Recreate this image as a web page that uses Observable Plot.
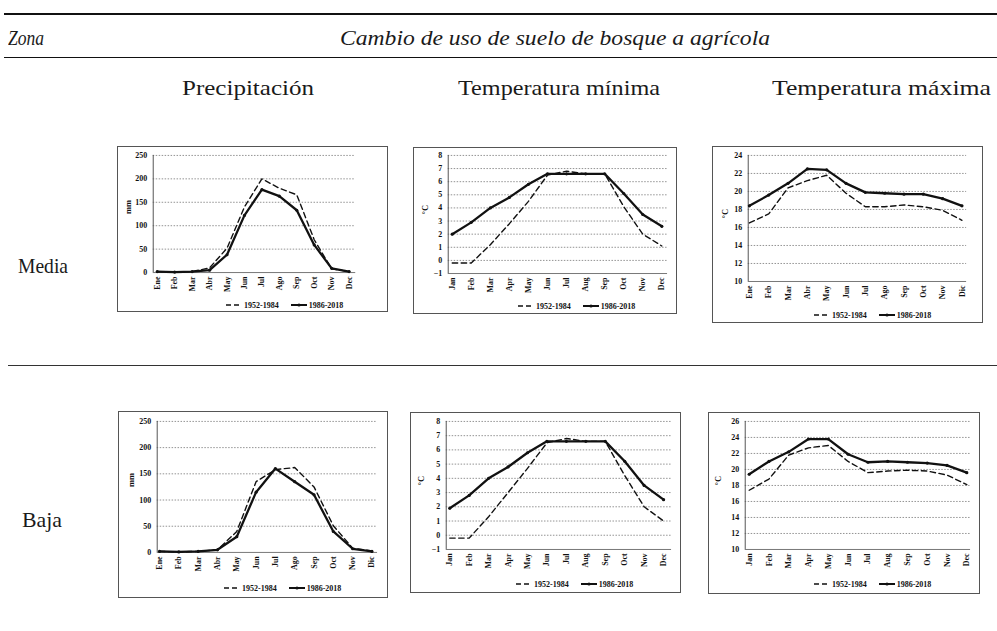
<!DOCTYPE html>
<html>
<head>
<meta charset="utf-8">
<script src="https://cdn.jsdelivr.net/npm/d3@7"></script>
<script src="https://cdn.jsdelivr.net/npm/@observablehq/plot@0.6"></script>
<style>
  html, body { margin: 0; padding: 0; background: #fff; }
  body { width: 997px; height: 631px; position: relative; overflow: hidden; }
  .rule { position: absolute; background: #111; }
  .hdr { position: absolute; white-space: nowrap; line-height: 1; color: #1a1a1a; transform-origin: 0 50%; }
  .box { position: absolute; box-sizing: border-box; border: 1px solid #555; background: #fff; }
  .box svg.plot { position: absolute; left: -1px; top: -1px; }
  .legend { position: absolute; display: flex; align-items: center; font-weight: bold; font-size: 8px; color: #111; white-space: nowrap; }
  .legend svg { display: block; }
</style>
</head>
<body>
<script>
// ---------- data ----------
const monthsPrecipMedia = ["Ene","Feb","Mar","Abr","May","Jun","Jul","Ago","Sep","Oct","Nov","Dec"];
const monthsES = ["Ene","Feb","Mar","Abr","May","Jun","Jul","Ago","Sep","Oct","Nov","Dic"];
const monthsEN = ["Jan","Feb","Mar","Apr","May","Jun","Jul","Aug","Sep","Oct","Nov","Dec"];

const periods = ["1952-1984", "1986-2018"];

const precipMedia1952 = [2, 1, 2, 10, 52, 140, 200, 180, 166, 70, 8, 2];
const precipMedia1986 = [2, 1, 2, 5, 38, 122, 177, 163, 133, 59, 9, 2];
const tminMedia1952 = [-0.2, -0.2, 1.2, 2.8, 4.5, 6.5, 6.8, 6.6, 6.6, 4.1, 2.0, 1.1];
const tminMedia1986 = [2.0, 2.9, 4.0, 4.8, 5.8, 6.6, 6.6, 6.6, 6.6, 5.1, 3.5, 2.6];
const tmaxMedia1952 = [16.5, 17.5, 20.4, 21.2, 21.8, 19.8, 18.3, 18.3, 18.5, 18.3, 17.9, 16.8];
const tmaxMedia1986 = [18.4, 19.6, 20.9, 22.5, 22.4, 20.9, 19.9, 19.8, 19.7, 19.7, 19.2, 18.4];

const precipBaja1952 = [2, 1, 2, 5, 40, 135, 158, 162, 125, 51, 8, 3];
const precipBaja1986 = [2, 1, 2, 5, 30, 115, 160, 135, 110, 40, 7, 2];
const tminBaja1952 = [-0.2, -0.2, 1.3, 3.0, 4.7, 6.5, 6.8, 6.6, 6.6, 4.2, 2.0, 1.0];
const tminBaja1986 = [1.9, 2.8, 4.0, 4.8, 5.8, 6.6, 6.6, 6.6, 6.6, 5.2, 3.5, 2.5];
const tmaxBaja1952 = [17.4, 18.8, 21.8, 22.7, 23.0, 21.0, 19.6, 19.8, 19.9, 19.8, 19.3, 18.1];
const tmaxBaja1986 = [19.4, 21.0, 22.2, 23.8, 23.8, 21.9, 20.9, 21.0, 20.9, 20.8, 20.5, 19.6];

const precipTicks = [0, 50, 100, 150, 200, 250];
const tminTicks = [-1, 0, 1, 2, 3, 4, 5, 6, 7, 8];
const tmaxMediaTicks = [10, 12, 14, 16, 18, 20, 22, 24];
const tmaxBajaTicks = [10, 12, 14, 16, 18, 20, 22, 24, 26];

const headerZona = "Zona";
const headerTitle = "Cambio de uso de suelo de bosque a agrícola";
const columnTitles = ["Precipitación", "Temperatura mínima", "Temperatura máxima"];
const rowTitles = ["Media", "Baja"];

// ---------- font detection (pick an installed serif) ----------
function measure(family) {
  const s = document.createElement("span");
  s.style.cssText = "position:absolute;visibility:hidden;font-size:40px;white-space:nowrap;font-family:" + family;
  s.textContent = "Temperatura máxima mmmwwwiii 1952";
  document.body.appendChild(s);
  const w = s.getBoundingClientRect().width;
  s.remove();
  return w;
}
const baseMono = measure("monospace");
function pick(list) {
  for (const c of list) {
    const a = measure(`'${c}', monospace`), b = measure(`'${c}', sans-serif`);
    if (Math.abs(a - b) < 0.5 && Math.abs(a - baseMono) > 0.5) return `'${c}', serif`;
  }
  return "serif";
}
const serifFamily = pick(["Liberation Serif", "Times New Roman", "Tinos", "Times", "Noto Serif", "DejaVu Serif"]);
const narrowSerif = pick(["Liberation Serif", "Times New Roman", "Tinos", "DejaVu Serif Condensed", "DejaVu Serif"]);
document.body.style.fontFamily = serifFamily;

// ---------- layout helpers ----------
function rule(x, y, w, h, color) {
  const d = document.createElement("div");
  d.className = "rule";
  Object.assign(d.style, {left: x + "px", top: y + "px", width: w + "px", height: h + "px", background: color || "#111"});
  document.body.appendChild(d);
}
function header(text, x, cy, targetW, italic, size) {
  const d = document.createElement("div");
  d.className = "hdr";
  d.textContent = text;
  d.style.fontFamily = narrowSerif;
  d.style.fontStyle = italic ? "italic" : "normal";
  d.style.fontSize = size + "px";
  document.body.appendChild(d);
  const r = d.getBoundingClientRect();
  d.style.left = x + "px";
  d.style.top = (cy - r.height / 2) + "px";
  d.style.transform = `scaleX(${targetW / r.width})`;
}

rule(4, 13, 993, 1.5);
rule(4, 57, 993, 1.2);
rule(8, 365, 989, 1, "#333");

header(headerZona, 8, 38, 36, true, 22);
header(headerTitle, 340, 38, 430, true, 22);
header(columnTitles[0], 182, 88, 132, false, 22);
header(columnTitles[1], 458, 88, 202, false, 22);
header(columnTitles[2], 772, 88, 219, false, 22);
header(rowTitles[0], 18, 266, 50, false, 22);
header(rowTitles[1], 22, 520, 40, false, 22);

// ---------- chart ----------
function chart(cfg) {
  const box = document.createElement("div");
  box.className = "box";
  Object.assign(box.style, {left: cfg.x + "px", top: cfg.y + "px", width: cfg.w + "px", height: cfg.h + "px"});
  document.body.appendChild(box);

  const mb = 27;
  const idx = d3.range(cfg.months.length);
  const old = idx.map(i => ({i, v: cfg.a[i], period: periods[0]}));
  const rec = idx.map(i => ({i, v: cfg.b[i], period: periods[1]}));
  const xDomain = [-cfg.padL, cfg.months.length - 1 + cfg.padR];
  const yDomain = [cfg.ticks[0], cfg.ticks[cfg.ticks.length - 1]];

  const svg = Plot.plot({
    width: cfg.w,
    height: cfg.mt + cfg.ph + mb,
    marginLeft: cfg.ml,
    marginRight: cfg.mr,
    marginTop: cfg.mt,
    marginBottom: mb,
    style: {fontFamily: narrowSerif, fontSize: "8px", fontWeight: "bold", background: "transparent", overflow: "visible", color: "#111"},
    x: {type: "linear", domain: xDomain},
    y: {type: "linear", domain: yDomain},
    marks: [
      Plot.gridY(cfg.ticks.slice(1), {stroke: "#777", strokeOpacity: 1, strokeWidth: 0.8, strokeDasharray: "1.5,1.5"}),
      Plot.ruleY([yDomain[0]], {stroke: "#777", strokeWidth: 1}),
      Plot.ruleX([xDomain[0]], {stroke: "#555", strokeWidth: 1}),
      Plot.axisY(cfg.ticks, {tickSize: 0, tickPadding: 6, label: null}),
      Plot.axisX(idx, {tickSize: 0, tickPadding: 4, tickRotate: -90, tickFormat: i => cfg.months[i], label: null}),
      Plot.line(old, {x: "i", y: "v", stroke: "#111", strokeWidth: 1.4, strokeDasharray: "5.5,3.5"}),
      Plot.line(rec, {x: "i", y: "v", stroke: "#111", strokeWidth: 2.3}),
      Plot.dot(rec, {x: "i", y: "v", r: 1.6, fill: "#111"}),
      Plot.text([cfg.ylabel], {frameAnchor: "left", rotate: -90, dx: -cfg.lx, fontSize: 8.5, fontWeight: "bold"})
    ]
  });
  svg.classList.add("plot");
  box.appendChild(svg);

  const lg = document.createElement("div");
  lg.className = "legend";
  lg.style.fontFamily = narrowSerif;
  lg.style.left = cfg.lgx + "px";
  lg.style.top = (cfg.lgy - 5) + "px";
  lg.style.height = "10px";
  lg.innerHTML =
    `<svg width="17" height="6"><line x1="0" x2="16" y1="3" y2="3" stroke="#111" stroke-width="1.4" stroke-dasharray="5,3"/></svg>` +
    `<span style="margin-left:1px">${periods[0]}</span>` +
    `<svg width="17" height="6" style="margin-left:12px"><line x1="0" x2="16" y1="3" y2="3" stroke="#111" stroke-width="2"/><circle cx="8" cy="3" r="1.6" fill="#111"/></svg>` +
    `<span style="margin-left:1px">${periods[1]}</span>`;
  box.appendChild(lg);
}

chart({x: 117, y: 146, w: 271, h: 166, ml: 36, mr: 31, mt: 9, ph: 118, padL: 0.23, padR: 0.38,
  months: monthsPrecipMedia, a: precipMedia1952, b: precipMedia1986, ticks: precipTicks, ylabel: "mm", lx: 25, lgx: 108, lgy: 158});
chart({x: 413, y: 147, w: 264, h: 167, ml: 35, mr: 8, mt: 8, ph: 119, padL: 0.21, padR: 0.30,
  months: monthsEN, a: tminMedia1952, b: tminMedia1986, ticks: tminTicks, ylabel: "°C", lx: 23, lgx: 104, lgy: 158});
chart({x: 712, y: 146, w: 271, h: 177, ml: 36, mr: 15, mt: 9, ph: 127, padL: 0.06, padR: 0.24,
  months: monthsES, a: tmaxMedia1952, b: tmaxMedia1986, ticks: tmaxMediaTicks, ylabel: "°C", lx: 23, lgx: 101, lgy: 168});
chart({x: 118, y: 411, w: 270, h: 187, ml: 39, mr: 9, mt: 10, ph: 132, padL: 0.12, padR: 0.29,
  months: monthsES, a: precipBaja1952, b: precipBaja1986, ticks: precipTicks, ylabel: "mm", lx: 26, lgx: 105, lgy: 176});
chart({x: 410, y: 412, w: 271, h: 181, ml: 36, mr: 8, mt: 9, ph: 129, padL: 0.18, padR: 0.41,
  months: monthsEN, a: tminBaja1952, b: tminBaja1986, ticks: tminTicks, ylabel: "°C", lx: 25, lgx: 105, lgy: 171});
chart({x: 708, y: 412, w: 272, h: 182, ml: 37, mr: 8, mt: 9, ph: 129, padL: 0.20, padR: 0.19,
  months: monthsEN, a: tmaxBaja1952, b: tmaxBaja1986, ticks: tmaxBajaTicks, ylabel: "°C", lx: 27, lgx: 105, lgy: 171});
</script>
</body>
</html>
